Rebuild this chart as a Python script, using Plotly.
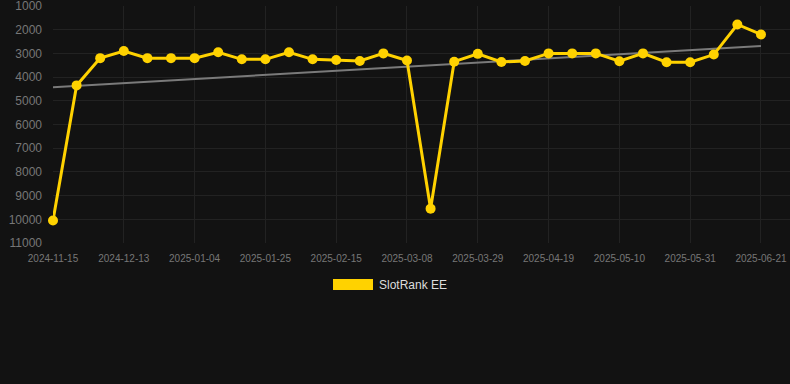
import numpy as np
import plotly.graph_objects as go

dates = [
    "2024-11-15", "2024-11-22", "2024-12-06", "2024-12-13", "2024-12-20", "2024-12-27",
    "2025-01-04", "2025-01-11", "2025-01-18", "2025-01-25", "2025-02-01", "2025-02-08",
    "2025-02-15", "2025-02-22", "2025-03-01", "2025-03-08", "2025-03-15", "2025-03-22",
    "2025-03-29", "2025-04-05", "2025-04-12", "2025-04-19", "2025-04-26", "2025-05-03",
    "2025-05-10", "2025-05-17", "2025-05-24", "2025-05-31", "2025-06-07", "2025-06-14",
    "2025-06-21",
]
ranks = [
    10050, 4350, 3200, 2900, 3200, 3200,
    3200, 2950, 3250, 3250, 2950, 3250,
    3280, 3320, 3000, 3300, 9550, 3350,
    3020, 3360, 3320, 3000, 3000, 3000,
    3330, 3000, 3370, 3370, 3050, 1780,
    2200,
]
series_name = "SlotRank EE"
y_ticks = [1000, 2000, 3000, 4000, 5000, 6000, 7000, 8000, 9000, 10000, 11000]

idx = np.arange(len(ranks))
slope, intercept = np.polyfit(idx, ranks, 1)
trend = slope * idx + intercept

YELLOW = "#FFD200"
BG = "#121212"
FONT = "Liberation Sans, Arial, sans-serif"

fig = go.Figure()
fig.add_trace(go.Scatter(
    x=idx, y=trend, mode="lines",
    line=dict(color="#7a7a7a", width=2),
    hoverinfo="skip", showlegend=False,
))
fig.add_trace(go.Scatter(
    x=idx, y=ranks, mode="lines+markers", name=series_name,
    line=dict(color=YELLOW, width=3),
    marker=dict(color=YELLOW, size=10),
    showlegend=False, cliponaxis=False,
))

# legend drawn as box + label
fig.add_shape(type="rect", xref="paper", yref="paper",
              x0=(333 - 53) / 737, x1=(373 - 53) / 737,
              y0=-(279 - 243) / 237, y1=-(290 - 243) / 237,
              fillcolor=YELLOW, line=dict(width=0))
fig.add_annotation(xref="paper", yref="paper",
                   x=(377 - 53) / 737, y=-(284.5 - 243) / 237,
                   xanchor="left", yanchor="middle", showarrow=False,
                   text=series_name, font=dict(color="#dddddd", size=12, family=FONT))

fig.update_layout(
    width=790, height=384,
    paper_bgcolor=BG, plot_bgcolor=BG,
    margin=dict(l=53, r=0, t=6, b=141),
    font=dict(family=FONT, color="#777777"),
    showlegend=False,
    xaxis=dict(
        range=[0, 31.23],
        tickmode="array",
        tickvals=list(idx[::3]),
        ticktext=dates[::3],
        tickfont=dict(size=10, color="#777777"),
        showgrid=True, gridcolor="#222222", gridwidth=1,
        zeroline=False, showline=False,
        ticks="", ticklen=0, ticklabelstandoff=8,
        ticklabeloverflow="allow",
    ),
    yaxis=dict(
        range=[11000, 1000],
        tickmode="array",
        tickvals=y_ticks,
        ticktext=[str(v) for v in y_ticks],
        tickfont=dict(size=12, color="#777777"),
        showgrid=True, gridcolor="#222222", gridwidth=1,
        zeroline=False, showline=False,
        ticks="", ticklen=0, ticklabelstandoff=10,
        ticklabeloverflow="allow",
    ),
)

fig.write_html("out.html", config={"displayModeBar": False},
               post_script="document.body.style.margin='0';document.body.style.background='#121212';")
